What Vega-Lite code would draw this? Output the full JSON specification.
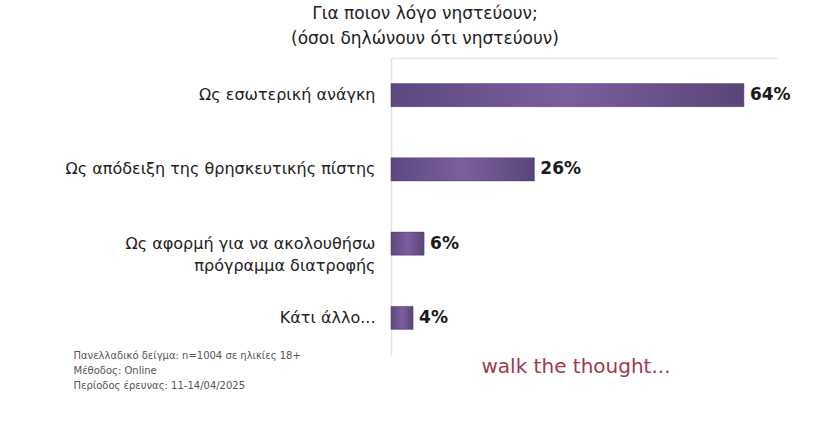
{
  "$schema": "https://vega.github.io/schema/vega-lite/v6.json",
  "autosize": {"type": "none"},
  "padding": {"left": 391, "top": 58, "right": 46, "bottom": 70},
  "width": 386,
  "height": 297,
  "background": "#ffffff",
  "config": {"view": {"stroke": null}, "font": "DejaVu Sans"},
  "title": {
    "text": ["Για ποιον λόγο νηστεύουν;", "(όσοι δηλώνουν ότι νηστεύουν)"],
    "anchor": "middle",
    "frame": "group",
    "dx": -159,
    "offset": 10,
    "fontSize": 17,
    "fontWeight": "normal",
    "lineHeight": 25,
    "color": "#222222",
    "font": "DejaVu Sans"
  },
  "data": {
    "values": [
      {"reason": "Ως εσωτερική ανάγκη", "pct": 0.64},
      {"reason": "Ως απόδειξη της θρησκευτικής πίστης", "pct": 0.26},
      {"reason": "Ως αφορμή για να ακολουθήσω|πρόγραμμα διατροφής", "pct": 0.06},
      {"reason": "Κάτι άλλο...", "pct": 0.04}
    ]
  },
  "encoding": {
    "y": {
      "field": "reason",
      "type": "nominal",
      "sort": null,
      "scale": {"paddingInner": 0.69, "paddingOuter": 0.345},
      "axis": {
        "orient": "left",
        "labelExpr": "split(datum.label, '|')",
        "labelFontSize": 16,
        "labelColor": "#222222",
        "labelFont": "DejaVu Sans",
        "labelLineHeight": 22,
        "labelPadding": 16,
        "labelLimit": 400,
        "ticks": false,
        "domain": true,
        "domainColor": "#e4e4e4",
        "domainWidth": 1.5,
        "grid": false,
        "title": ["Πανελλαδικό δείγμα: n=1004 σε ηλικίες 18+", "Μέθοδος: Online", "Περίοδος έρευνας: 11-14/04/2025"],
        "titleAngle": 0,
        "titleAlign": "left",
        "titleBaseline": "middle",
        "titleX": -318,
        "titleY": 297,
        "titleFontSize": 10,
        "titleFontWeight": "normal",
        "titleColor": "#555555",
        "titleLineHeight": 15,
        "titleFont": "DejaVu Sans"
      }
    },
    "x": {
      "field": "pct",
      "type": "quantitative",
      "scale": {"domain": [0, 0.7], "nice": false},
      "axis": {
        "orient": "top",
        "labels": false,
        "ticks": false,
        "grid": false,
        "domain": true,
        "domainColor": "#e4e4e4",
        "domainWidth": 1.5,
        "title": "walk the thought...",
        "titleAnchor": "start",
        "titleAlign": "left",
        "titleBaseline": "middle",
        "titleX": 90,
        "titleY": 308,
        "titleFontSize": 20,
        "titleFontWeight": "normal",
        "titleColor": "#a0394a",
        "titleFont": "DejaVu Sans"
      }
    }
  },
  "layer": [
    {
      "mark": {
        "type": "bar",
        "color": {
          "gradient": "linear",
          "x1": 0, "y1": 0, "x2": 1, "y2": 0,
          "stops": [
            {"offset": 0, "color": "#5d4880"},
            {"offset": 0.5, "color": "#7a5f9d"},
            {"offset": 1, "color": "#5a4577"}
          ]
        },
        "stroke": "#4e3c6a",
        "strokeWidth": 0.5
      }
    },
    {
      "mark": {
        "type": "text",
        "align": "left",
        "baseline": "middle",
        "dx": 6,
        "fontSize": 17,
        "fontWeight": "bold",
        "color": "#1a1a1a",
        "font": "DejaVu Sans"
      },
      "encoding": {
        "text": {"field": "pct", "type": "quantitative", "format": ".0%"}
      }
    }
  ]
}
